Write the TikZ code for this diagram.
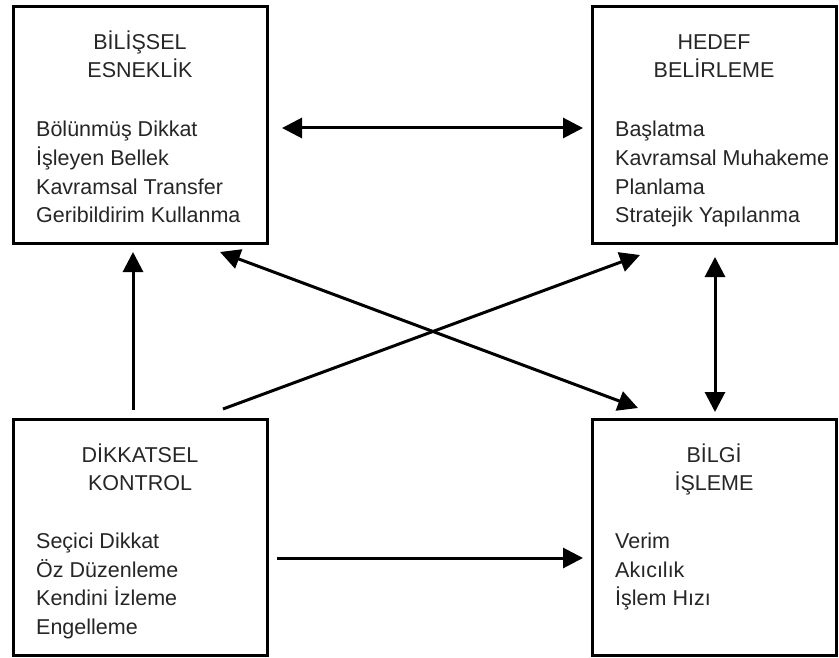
\documentclass[tikz,border=0pt]{standalone}
\usepackage{fontspec}
\setmainfont{Liberation Sans}
\usetikzlibrary{arrows.meta}
\begin{document}
\begin{tikzpicture}[x=1pt,y=-1pt,
  box/.style={draw, line width=3pt, inner sep=0pt},
  conn/.style={line width=3pt, -{Triangle[length=20pt,width=20pt]}},
  bothconn/.style={line width=3pt, {Triangle[length=20pt,width=20pt]}-{Triangle[length=20pt,width=20pt]}},
  txt/.style={anchor=base west, inner sep=0pt, text=black!85, font=\fontsize{21.5}{25}\selectfont},
  ttl/.style={anchor=base, inner sep=0pt, text=black!85, font=\fontsize{21.5}{25}\selectfont}
]
\useasboundingbox[fill=white] (0,0) rectangle (839,658);
% boxes
\node[box, minimum width=254pt, minimum height=237pt] (tl) at (140,125.5) {};
\node[box, minimum width=244pt, minimum height=237pt] (tr) at (714,125.5) {};
\node[box, minimum width=254pt, minimum height=236pt] (bl) at (140,537) {};
\node[box, minimum width=244pt, minimum height=236pt] (br) at (714,537) {};
% top-left text
\node[ttl] (tlt1) at (140,50) {BİLİŞSEL};
\node[ttl] (tlt2) at (140,78) {ESNEKLİK};
\node[txt] (tll1) at (36,137) {Bölünmüş Dikkat};
\node[txt] (tll2) at (36,166) {İşleyen Bellek};
\node[txt] (tll3) at (36,195) {Kavramsal Transfer};
\node[txt] (tll4) at (36,223) {Geribildirim Kullanma};
% top-right text
\node[ttl] (trt1) at (714,50) {HEDEF};
\node[ttl] (trt2) at (714,78) {BELİRLEME};
\node[txt] (trl1) at (615,137) {Başlatma};
\node[txt] (trl2) at (615,166) {Kavramsal Muhakeme};
\node[txt] (trl3) at (615,195) {Planlama};
\node[txt] (trl4) at (615,223) {Stratejik Yapılanma};
% bottom-left text
\node[ttl] (blt1) at (140,462) {DİKKATSEL};
\node[ttl] (blt2) at (140,490) {KONTROL};
\node[txt] (bll1) at (36,548) {Seçici Dikkat};
\node[txt] (bll2) at (36,577) {Öz Düzenleme};
\node[txt] (bll3) at (36,605) {Kendini İzleme};
\node[txt] (bll4) at (36,634) {Engelleme};
% bottom-right text
\node[ttl] (brt1) at (714,462) {BİLGİ};
\node[ttl] (brt2) at (714,490) {İŞLEME};
\node[txt] (brl1) at (615,548) {Verim};
\node[txt] (brl2) at (615,577) {Akıcılık};
\node[txt] (brl3) at (615,605) {İşlem Hızı};
% connector end points
\coordinate (h1a) at (282,128);
\coordinate (h1b) at (583,128);
\coordinate (v1a) at (133,410);
\coordinate (v1b) at (133,252);
\coordinate (d1a) at (223,409);
\coordinate (d1b) at (640,255);
\coordinate (d2a) at (220,252);
\coordinate (d2b) at (638,408);
\coordinate (v2a) at (715,257);
\coordinate (v2b) at (715,412);
\coordinate (h2a) at (277,558);
\coordinate (h2b) at (583,558);
% connectors
\draw[bothconn] (h1a) -- (h1b);
\draw[conn] (v1a) -- (v1b);
\draw[conn] (d1a) -- (d1b);
\draw[bothconn] (d2a) -- (d2b);
\draw[bothconn] (v2a) -- (v2b);
\draw[conn] (h2a) -- (h2b);
\end{tikzpicture}
\end{document}
